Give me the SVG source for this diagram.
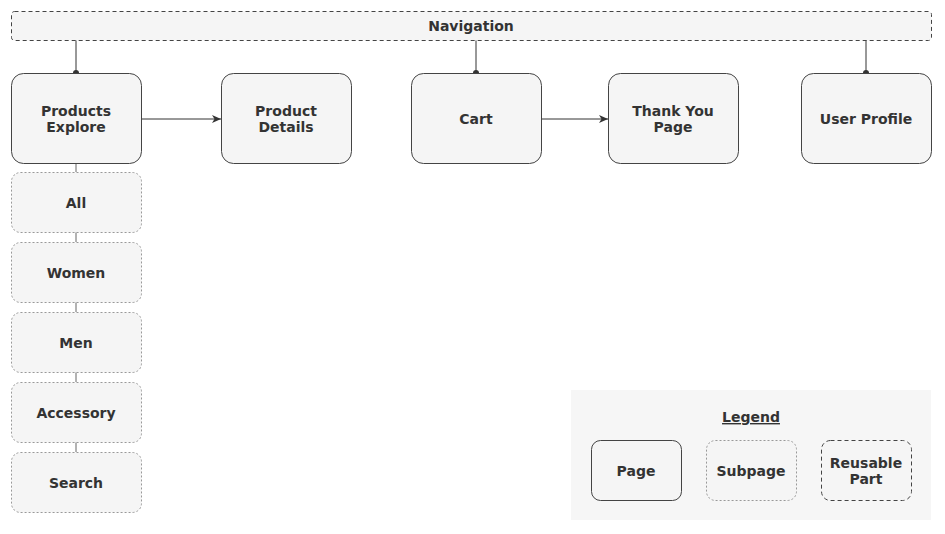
<svg xmlns="http://www.w3.org/2000/svg" width="945" height="534" viewBox="0 0 945 534">
<defs>
<style>
.page{fill:#f5f5f5;stroke:#444;stroke-width:1}
.sub{fill:#f5f5f5;stroke:#999;stroke-width:1;stroke-dasharray:2 2}
.reuse{fill:#f5f5f5;stroke:#444;stroke-width:1;stroke-dasharray:4 3}
.t{font-family:"DejaVu Sans",Verdana,sans-serif;font-weight:bold;font-size:14px;fill:#333;text-anchor:middle}
.c{stroke:#333;stroke-width:1;fill:none}
.s{stroke:#666;stroke-width:1;fill:none}
</style>
<marker id="arr" markerWidth="12" markerHeight="12" refX="10" refY="6" orient="auto" markerUnits="userSpaceOnUse">
<path d="M1,2 L10,6 L1,10 L3.5,6 Z" fill="#333"/>
</marker>
<marker id="oval" markerWidth="10" markerHeight="10" refX="5" refY="5" orient="auto" markerUnits="userSpaceOnUse">
<ellipse cx="5" cy="5" rx="3" ry="3" fill="#333"/>
</marker>
</defs>
<rect width="945" height="534" fill="#fff"/>
<g id="legend-bg"><rect x="571" y="390" width="360" height="130" fill="#f6f6f6"/></g>
<g id="connectors">
<line class="c" x1="76" y1="40" x2="76" y2="73" marker-end="url(#oval)"/>
<line class="c" x1="476" y1="40" x2="476" y2="73" marker-end="url(#oval)"/>
<line class="c" x1="866" y1="40" x2="866" y2="73" marker-end="url(#oval)"/>
<line class="c" x1="141" y1="119" x2="221" y2="119" marker-end="url(#arr)"/>
<line class="c" x1="541" y1="119" x2="608" y2="119" marker-end="url(#arr)"/>
<line class="s" x1="76" y1="163" x2="76" y2="172"/>
<line class="s" x1="76" y1="232" x2="76" y2="242"/>
<line class="s" x1="76" y1="302" x2="76" y2="312"/>
<line class="s" x1="76" y1="372" x2="76" y2="382"/>
<line class="s" x1="76" y1="442" x2="76" y2="452"/>
</g>
<g id="navigation"><rect class="reuse" x="11.5" y="11.5" width="920" height="29" rx="3"/><text class="t" x="471" y="31">Navigation</text></g>
<g id="products-explore"><rect class="page" x="11.5" y="73.5" width="130" height="90" rx="12"/><text class="t" x="76" y="116">Products</text><text class="t" x="76" y="132">Explore</text></g>
<g id="product-details"><rect class="page" x="221.5" y="73.5" width="130" height="90" rx="12"/><text class="t" x="286" y="116">Product</text><text class="t" x="286" y="132">Details</text></g>
<g id="cart"><rect class="page" x="411.5" y="73.5" width="130" height="90" rx="12"/><text class="t" x="476" y="124">Cart</text></g>
<g id="thank-you"><rect class="page" x="608.5" y="73.5" width="130" height="90" rx="12"/><text class="t" x="673" y="116">Thank You</text><text class="t" x="673" y="132">Page</text></g>
<g id="user-profile"><rect class="page" x="801.5" y="73.5" width="130" height="90" rx="12"/><text class="t" x="866" y="124">User Profile</text></g>
<g id="all"><rect class="sub" x="11.5" y="172.5" width="130" height="60" rx="9"/><text class="t" x="76" y="208">All</text></g>
<g id="women"><rect class="sub" x="11.5" y="242.5" width="130" height="60" rx="9"/><text class="t" x="76" y="278">Women</text></g>
<g id="men"><rect class="sub" x="11.5" y="312.5" width="130" height="60" rx="9"/><text class="t" x="76" y="348">Men</text></g>
<g id="accessory"><rect class="sub" x="11.5" y="382.5" width="130" height="60" rx="9"/><text class="t" x="76" y="418">Accessory</text></g>
<g id="search"><rect class="sub" x="11.5" y="452.5" width="130" height="60" rx="9"/><text class="t" x="76" y="488">Search</text></g>
<g id="legend">
<text class="t" x="751" y="422" font-size="15" text-decoration="underline">Legend</text>
<g id="legend-page"><rect class="page" x="591.5" y="440.5" width="90" height="60" rx="9"/><text class="t" x="636" y="476">Page</text></g>
<g id="legend-subpage"><rect class="sub" x="706.5" y="440.5" width="90" height="60" rx="9"/><text class="t" x="751" y="476">Subpage</text></g>
<g id="legend-reusable"><rect class="reuse" x="821.5" y="440.5" width="90" height="60" rx="9"/><text class="t" x="866" y="468">Reusable</text><text class="t" x="866" y="484">Part</text></g>
</g>
</svg>
